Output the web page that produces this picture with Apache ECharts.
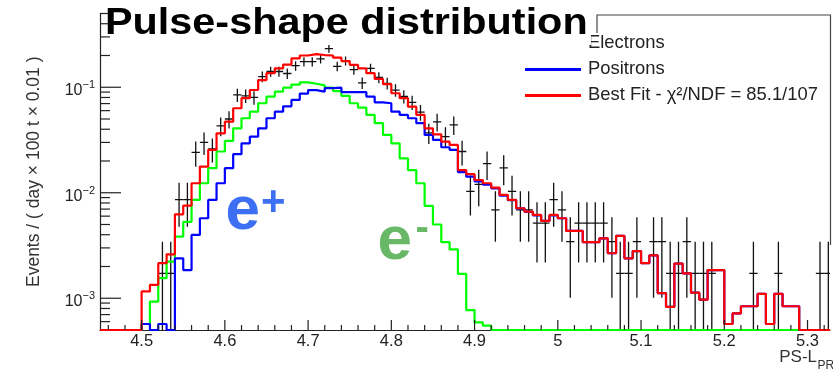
<!DOCTYPE html>
<html><head><meta charset="utf-8">
<script src="https://cdn.jsdelivr.net/npm/echarts@6/dist/echarts.min.js"></script>
<style>html,body{margin:0;padding:0;background:#fff}#c{width:833px;height:375px}</style>
</head><body><div id="c"></div>
<script>
// ---- axis ranges / binning ----
const binStart = 4.50;
const binWidth = 0.01;
const xMin = 4.45, xMax = 5.327;
const yMin = 0.0005, yMax = 0.5;

// ---- histograms (one value per 0.01 bin, 4.50 ... 5.32) ----
const bestFit = [
  0.00116,0.00134,0.00215,0.00261,0.00625,0.00755,0.0123,0.0177,0.0255,0.0366,
  0.0472,0.0632,0.0787,0.0942,0.117,0.136,0.151,0.164,0.188,0.200,
  0.206,0.202,0.200,0.191,0.177,0.163,0.151,0.136,0.120,0.107,
  0.0877,0.0787,0.0655,0.0546,0.0408,0.0358,0.0305,0.0284,0.0164,0.0150,
  0.0132,0.0123,0.0112,0.00953,0.00855,0.00713,0.00662,0.00616,0.0054,0.00616,
  0.00573,0.00435,0.00435,0.0034,0.0034,0.0037,0.00267,0.0039,0.00239,0.0028,
  0.00215,0.00255,0.00112,0.00083,0.00213,0.00172,0.00113,0.00097,0.00185,0.00185,
  0.00057,0.00072,0.00084,0.00084,0.0011,0.00057,0.0011,0.00084,0.00084,0,
  0,0,0
];
const positrons = [
  0.00057,0,0.00057,0,0.00239,0.00185,0.00398,0.00573,0.00855,0.0123,
  0.0171,0.0232,0.0294,0.034,0.0408,0.0508,0.0587,0.066,0.0758,0.087,
  0.094,0.091,0.098,0.099,0.090,0.090,0.090,0.0815,0.072,0.0705,
  0.0587,0.0546,0.0508,0.0456,0.0353,0.0317,0.027,0.0255,0.0157,0.0142,
  0.0128,0.0119,0.011,0.0094,0.0085,0.0071,0.0066,0.0061,0.0054,0.0061,
  0.00573,0.00435,0.00435,0.0034,0.0034,0.0037,0.00267,0.0039,0.00239,0.0028,
  0.00215,0.00255,0.00112,0.00083,0.00213,0.00172,0.00113,0.00097,0.00185,0.00185,
  0.00057,0.00072,0.00084,0.00084,0.0011,0.00057,0.0011,0.00084,0.00084,0,
  0,0,0
];
const electrons = [
  0.00057,0.00093,0.00155,0.00222,0.00384,0.0053,0.00855,0.0123,0.0171,0.0246,
  0.031,0.0408,0.0508,0.0587,0.0705,0.0815,0.0908,0.099,0.106,0.111,
  0.108,0.104,0.099,0.092,0.083,0.0705,0.064,0.0546,0.0456,0.0353,
  0.0294,0.0212,0.0164,0.0123,0.0075,0.005,0.0034,0.0029,0.0017,0.00077,
  0.00059,0.00055,0,0,0,0,0,0,0,0,
  0,0,0,0,0,0,0,0,0,0,
  0,0,0,0,0,0,0,0,0,0,
  0,0,0,0,0,0,0,0,0,0,
  0,0,0
];
// ---- data points (bin centres) and their errors ----
const dataValues = [
  0,0,0.00172,0.00172,0.0086,0.0086,0.0241,0.030,0.026,0.043,
  0.050,0.0845,0.083,0.080,0.126,0.141,0.141,0.135,0.160,0.175,
  0.175,0.186,0.232,0.158,0.178,0.147,0.110,0.151,0.124,0.109,
  0.094,0.082,0.072,0.058,0.037,0.047,0.034,0.044,0.0246,0.0103,
  0.0120,0.0189,0.00688,0.0172,0.0103,0.00688,0.00688,0.00516,0.00516,0.0086,
  0.00688,0.00344,0.00516,0.00516,0.00516,0.00516,0.00344,0.00172,0.00172,0.00344,
  0,0.00344,0.00344,0.00172,0.00172,0.00344,0.00172,0.00172,0.00172,0,
  0,0,0,0.00172,0,0,0.00172,0,0,0,
  0,0.00172,0.00172
];
const dataErrors = [
  0,0,0.00172,0.00172,0.00385,0.00385,0.00644,0.00718,0.00669,0.0086,
  0.00927,0.01206,0.01195,0.01173,0.01472,0.01557,0.01557,0.01524,0.01659,0.01735,
  0.01735,0.01789,0.01998,0.01648,0.0175,0.0159,0.01375,0.01612,0.0146,0.01369,
  0.01272,0.01188,0.01113,0.00999,0.00798,0.00899,0.00765,0.0087,0.0065,0.00421,
  0.00454,0.0057,0.00344,0.00544,0.00421,0.00344,0.00344,0.00298,0.00298,0.00385,
  0.00344,0.00243,0.00298,0.00298,0.00298,0.00298,0.00243,0.00172,0.00172,0.00243,
  0,0.00243,0.00243,0.00172,0.00172,0.00243,0.00172,0.00172,0.00172,0,
  0,0,0,0.00172,0,0,0.00172,0,0,0,
  0,0.00172,0.00172
];
// ---- ticks ----
const xMajorTicks = [4.5,4.6,4.7,4.8,4.9,5.0,5.1,5.2,5.3];
const xMinorTicks = [4.46,4.48,4.52,4.54,4.56,4.58,4.62,4.64,4.66,4.68,4.72,4.74,4.76,4.78,
  4.82,4.84,4.86,4.88,4.92,4.94,4.96,4.98,5.02,5.04,5.06,5.08,5.12,5.14,5.16,5.18,
  5.22,5.24,5.26,5.28,5.32];
const yMajorTicks = [0.001,0.01,0.1];
const yMinorTicks = [0.0006,0.0007,0.0008,0.0009,0.002,0.003,0.004,0.005,0.006,0.007,0.008,0.009,
  0.02,0.03,0.04,0.05,0.06,0.07,0.08,0.09,0.2,0.3,0.4,0.5];

const FONT = '"Liberation Sans", Arial, sans-serif';
const fitName = 'Best Fit - \u03c7\u00b2/NDF = 85.1/107';

function edge(i){ return +(binStart + i*binWidth).toFixed(4); }
function stepData(vals){
  const pts = [[xMin, yMin]];
  vals.forEach((v,i) => pts.push([edge(i), v > 0 ? v : yMin]));
  const last = vals[vals.length-1];
  pts.push([xMax, last > 0 ? last : yMin]);
  return pts;
}
const pointData = [];
dataValues.forEach((v,i) => { if (v > 0) pointData.push([+(edge(i)+binWidth/2).toFixed(4), v, dataErrors[i]]); });

function histSeries(name, vals, color, z){
  return { name, type:'line', step:'end', data: stepData(vals), showSymbol:false, symbol:'none',
    clip:false, z, lineStyle:{color, width:2.2}, itemStyle:{color}, silent:true };
}
function tickSeries(vals, axis, len){
  return { type:'custom', silent:true, clip:false, z:10,
    data: vals.map(v => axis === 'x' ? [v, yMin] : [xMin, v]),
    renderItem(params, api){
      const p = api.coord([api.value(0), api.value(1)]);
      const shape = axis === 'x' ? {x1:p[0], y1:p[1], x2:p[0], y2:p[1]-len}
                                 : {x1:p[0], y1:p[1], x2:p[0]+len, y2:p[1]};
      return { type:'line', shape, style:{stroke:'#222', lineWidth:1.2} };
    } };
}

const chart = echarts.init(document.getElementById('c'), null, {renderer:'canvas'});
chart.setOption({
  animation:false,
  grid:{left:100, right:3, top:13.5, bottom:45},
  xAxis:{ type:'value', min:xMin, max:xMax, splitNumber:8,
    axisLine:{lineStyle:{color:'#222', width:1.2}}, axisTick:{show:false}, splitLine:{show:false},
    axisLabel:{ fontSize:16.5, color:'#222', fontFamily:FONT, margin:3, showMinLabel:false, showMaxLabel:false,
      formatter: v => Math.abs(v*10 - Math.round(v*10)) > 1e-6 ? '' : String(Math.round(v*10)/10) } },
  yAxis:{ type:'log', logBase:10, min:yMin, max:yMax,
    axisLine:{lineStyle:{color:'#222', width:1.2}}, axisTick:{show:false}, splitLine:{show:false}, minorTick:{show:false},
    name:'Events / ( day \u00d7 100 t \u00d7 0.01 )', nameLocation:'middle', nameGap:57, nameRotate:90,
    nameTextStyle:{fontSize:17.5, color:'#333', fontFamily:FONT},
    axisLabel:{ margin:5, showMinLabel:false, showMaxLabel:false, padding:[7,0,0,0],
      formatter: v => { const e = Math.log10(v); if (Math.abs(e - Math.round(e)) > 1e-6) return '';
        return '{b|10}{s|\u2212' + (-Math.round(e)) + '}'; },
      rich:{ b:{fontSize:16, lineHeight:22, color:'#222', fontFamily:FONT},
             s:{fontSize:11, verticalAlign:'top', color:'#222', fontFamily:FONT} } } },
  legend:{ data:['Electrons','Positrons',fitName], orient:'vertical', left:520, top:28.4,
    itemWidth:56, itemHeight:3, itemGap:6, icon:'rect', selectedMode:false,
    textStyle:{fontSize:18.4, lineHeight:20, color:'#222', fontFamily:FONT, padding:[0,0,0,2]} },
  series:[
    { name:'Data', type:'custom', clip:true, z:2, silent:true, data:pointData,
      renderItem(params, api){
        const xc = api.value(0), v = api.value(1), e = api.value(2);
        const lo = Math.max(v - e, yMin);
        const pL = api.coord([xc - binWidth/2, v]), pR = api.coord([xc + binWidth/2, v]);
        const pT = api.coord([xc, v + e]), pB = api.coord([xc, lo]);
        const st = {stroke:'#111', lineWidth:1.3};
        return { type:'group', children:[
          {type:'line', shape:{x1:pL[0], y1:pL[1], x2:pR[0], y2:pR[1]}, style:st},
          {type:'line', shape:{x1:pT[0], y1:pT[1], x2:pB[0], y2:pB[1]}, style:st} ] };
      } },
    histSeries('Electrons', electrons, '#00ff00', 3),
    histSeries('Positrons', positrons, '#0000ff', 4),
    histSeries(fitName, bestFit, '#ff0000', 5),
    tickSeries(xMajorTicks, 'x', 10),
    tickSeries(xMinorTicks, 'x', 5),
    tickSeries(yMajorTicks, 'y', 21),
    tickSeries(yMinorTicks, 'y', 10)
  ],
  graphic:[
    {type:'polyline', z:50, silent:true, shape:{points:[[597,33],[597,15],[830.5,15],[830.5,245]]},
      style:{stroke:'#444', lineWidth:1.2, fill:null}},
    {type:'rect', z:100, silent:true, shape:{x:110, y:0, width:481, height:45}, style:{fill:'#fff'}},
    {type:'text', z:101, silent:true, x:105, y:24, scaleX:1.118,
      style:{text:'Pulse-shape distribution', font:'bold 37px ' + FONT, fill:'#000', align:'left', verticalAlign:'middle'}},
    {type:'text', z:60, silent:true, x:225.5, y:212,
      style:{text:'e', font:'bold 62px ' + FONT, fill:'#3c6ff3', align:'left', verticalAlign:'middle'}},
    {type:'text', z:60, silent:true, x:261, y:203,
      style:{text:'+', font:'bold 42px ' + FONT, fill:'#3c6ff3', align:'left', verticalAlign:'middle'}},
    {type:'text', z:60, silent:true, x:377.5, y:241.5,
      style:{text:'e', font:'bold 62px ' + FONT, fill:'#68b868', align:'left', verticalAlign:'middle'}},
    {type:'text', z:60, silent:true, x:415.5, y:229,
      style:{text:'-', font:'bold 40px ' + FONT, fill:'#68b868', align:'left', verticalAlign:'middle'}},
    {type:'text', z:60, silent:true, x:817, y:357.1,
      style:{text:'PS-L', font:'17px ' + FONT, fill:'#333', align:'right', verticalAlign:'middle'}},
    {type:'text', z:60, silent:true, x:817.5, y:365.8,
      style:{text:'PR', font:'12px ' + FONT, fill:'#333', align:'left', verticalAlign:'middle'}}
  ]
});
</script></body></html>
